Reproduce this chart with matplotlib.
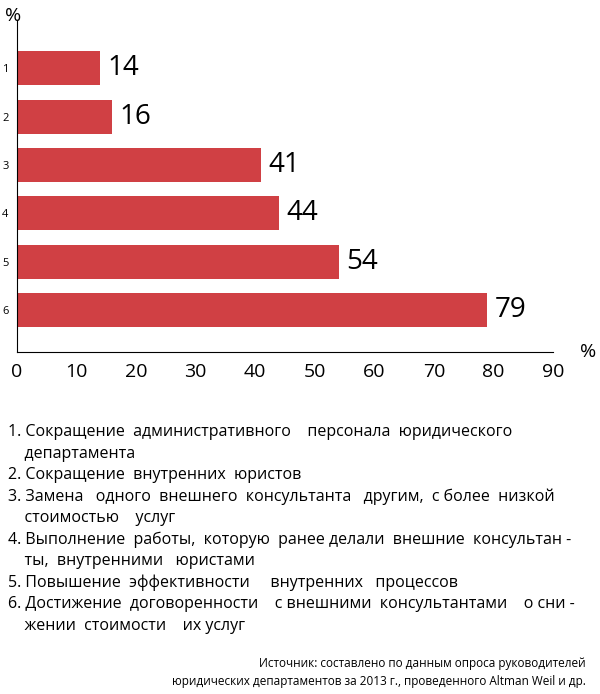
import matplotlib
matplotlib.use("Agg")
import matplotlib.pyplot as plt

categories = ["1", "2", "3", "4", "5", "6"]
values = [14, 16, 41, 44, 54, 79]
xticks = [0, 10, 20, 30, 40, 50, 60, 70, 80, 90]
legend_lines = [
    "1. Сокращение  административного    персонала  юридического",
    "    департамента",
    "2. Сокращение  внутренних  юристов",
    "3. Замена   одного  внешнего  консультанта   другим,  с более  низкой",
    "    стоимостью    услуг",
    "4. Выполнение  работы,  которую  ранее делали  внешние  консультан -",
    "    ты,  внутренними   юристами",
    "5. Повышение  эффективности     внутренних   процессов",
    "6. Достижение  договоренности    с внешними  консультантами    о сни -",
    "    жении  стоимости    их услуг",
]
source = ["Источник: составлено по данным опроса руководителей",
          "юридических департаментов за 2013 г., проведенного Altman Weil и др."]

plt.rcParams["font.family"] = "Open Sans"
fig = plt.figure(figsize=(6, 6.94), dpi=100)
ax = fig.add_axes([17/600, 1-352/694, (553-17)/600, (352-20)/694])
ys = list(range(len(values)))
ax.barh(ys, values, height=0.7, color="#d04044")
for y, v in zip(ys, values):
    ax.text(v + 1.2, y, str(v), va="center", ha="left", fontsize=20)
ax.set_xlim(0, 90)
ax.set_ylim(5.87, -1.0)
ax.set_yticks(ys)
ax.set_yticklabels(categories, fontsize=8)
ax.set_xticks(xticks)
ax.set_xticklabels([str(t) for t in xticks], fontsize=14)
ax.tick_params(length=0, pad=8)
ax.tick_params(axis="y", pad=6)
for s in ["top", "right"]:
    ax.spines[s].set_visible(False)
fig.text(5/600, 1-16/694, "%", fontsize=14, va="center")
fig.text(580/600, 1-352/694, "%", fontsize=14, va="center")
y0 = 432
for i, line in enumerate(legend_lines):
    fig.text(8/600, 1-(y0 + i*21.5)/694, line, fontsize=11.5, va="center")
fig.text(586/600, 1-664/694, source[0], fontsize=8.5, ha="right", va="center")
fig.text(586/600, 1-681/694, source[1], fontsize=8.5, ha="right", va="center")
fig.savefig("out.png", dpi=100)
